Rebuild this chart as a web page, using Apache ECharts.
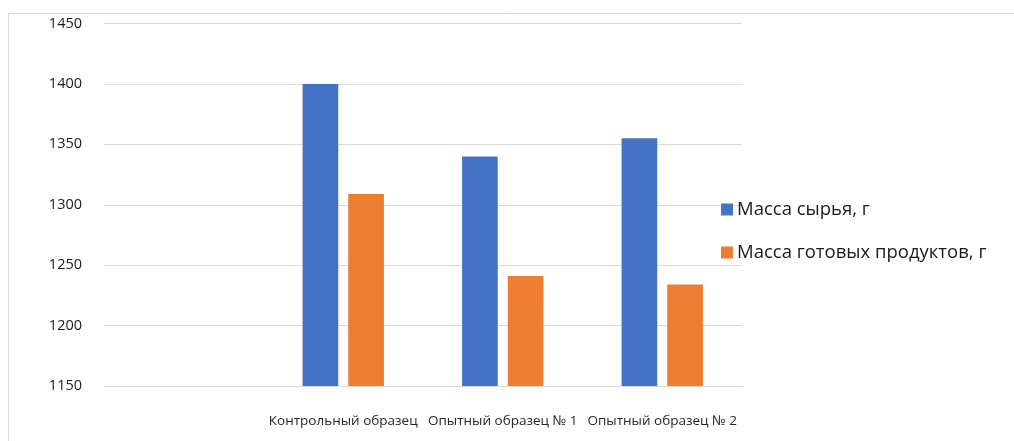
<!DOCTYPE html>
<html><head><meta charset="utf-8">
<script src="https://cdn.jsdelivr.net/npm/echarts@6/dist/echarts.min.js"></script>
<style>html,body{margin:0;padding:0;background:#fff}#c{width:1014px;height:441px}</style>
</head><body><div id="c"></div>
<script>
const categories = ['', 'Контрольный образец', 'Опытный образец № 1', 'Опытный образец № 2'];
const seriesNames = ['Масса сырья, г', 'Масса готовых продуктов, г'];
const rawMass = [null, 1400, 1340, 1355];
const productMass = [null, 1309, 1241, 1234];
const yTicks = {min: 1150, max: 1450, interval: 50};

const chart = echarts.init(document.getElementById('c'), null, {renderer: 'canvas'});
chart.setOption({
  animation: false,
  backgroundColor: '#fff',
  textStyle: {fontFamily: '"Open Sans", "Noto Sans", sans-serif'},
  graphic: [
    {type: 'line', shape: {x1: 8.5, y1: 13.5, x2: 1014, y2: 13.5}, style: {stroke: '#d9d9d9', lineWidth: 1}},
    {type: 'line', shape: {x1: 8.5, y1: 13.5, x2: 8.5, y2: 441}, style: {stroke: '#d9d9d9', lineWidth: 1}}
  ],
  grid: {left: 104, right: 272, top: 23.5, bottom: 55, containLabel: false},
  legend: {
    orient: 'vertical',
    left: 721, top: 200,
    padding: 0,
    itemWidth: 12, itemHeight: 12, itemGap: 24,
    icon: 'rect',
    textStyle: {fontSize: 18.5, color: '#1a1a1a', fontFamily: '"Open Sans", "Noto Sans", sans-serif', padding: [0,0,0,-1]},
    data: seriesNames
  },
  xAxis: {
    type: 'category',
    data: categories,
    axisLine: {show: true, lineStyle: {color: '#d9d9d9'}},
    axisTick: {show: false},
    axisLabel: {color: '#262626', fontSize: 13.5, margin: 28, interval: 0}
  },
  yAxis: {
    type: 'value',
    min: yTicks.min, max: yTicks.max, interval: yTicks.interval,
    axisLine: {show: false},
    axisTick: {show: false},
    splitLine: {lineStyle: {color: '#d9d9d9', width: 1}},
    axisLabel: {color: '#1a1a1a', fontSize: 14.5, margin: 22, formatter: v => String(v)}
  },
  series: [
    {name: seriesNames[0], type: 'bar', data: rawMass, barGap: '28%', barCategoryGap: '49%', itemStyle: {color: '#4472c4'}},
    {name: seriesNames[1], type: 'bar', data: productMass, itemStyle: {color: '#ed7d31'}}
  ]
});
</script></body></html>
